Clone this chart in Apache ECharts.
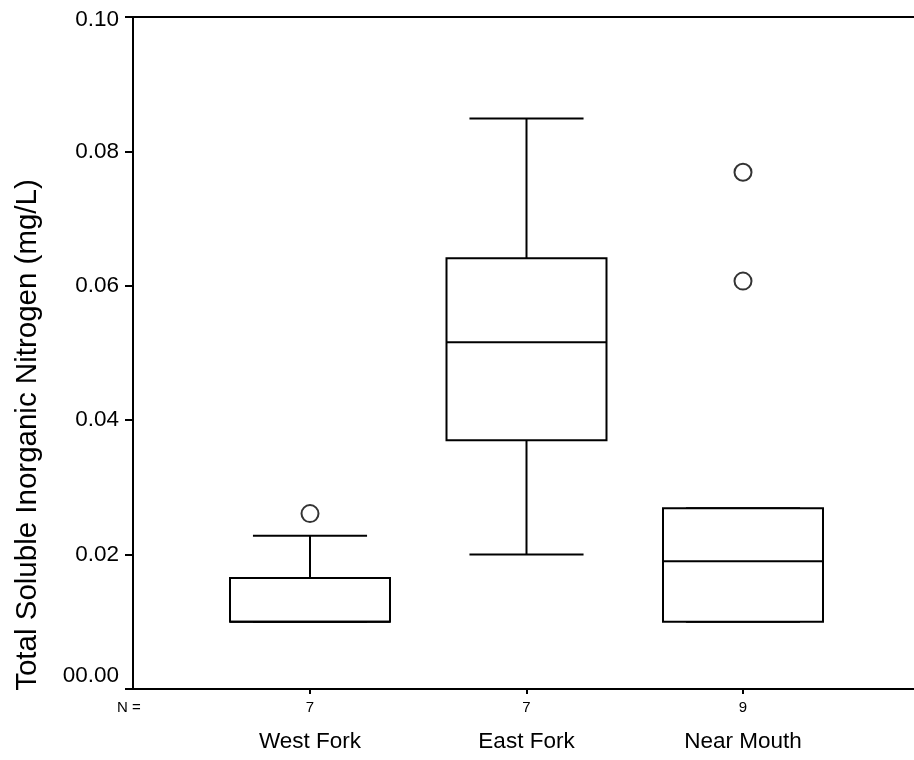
<!DOCTYPE html>
<html>
<head>
<meta charset="utf-8">
<script src="https://cdn.jsdelivr.net/npm/echarts@6/dist/echarts.min.js"></script>
<style>
html,body{margin:0;padding:0;background:#fff;}
#chart{width:914px;height:760px;}
</style>
</head>
<body>
<div id="chart"></div>
<script>
// ---- data ----
const categories = ['West Fork', 'East Fork', 'Near Mouth'];
const nCounts = [7, 7, 9];
// [lower whisker, Q1, median, Q3, upper whisker]
const lowerWhisker = [0.0100, 0.0200, 0.0100];
const q1Values     = [0.0100, 0.0370, 0.0100];
const medianValues = [0.0100, 0.0516, 0.0190];
const q3Values     = [0.0165, 0.0641, 0.0269];
const upperWhisker = [0.0228, 0.0849, 0.0269];
const outlierCategory = [0, 2, 2];
const outlierValues   = [0.0261, 0.0769, 0.0607];
const yTickLabels = ['00.00', '0.02', '0.04', '0.06', '0.08', '0.10'];
const yTitle = 'Total Soluble Inorganic Nitrogen (mg/L)';

// ---- build ----
const boxSeriesData = categories.map((c, i) => [i, lowerWhisker[i], q1Values[i], medianValues[i], q3Values[i], upperWhisker[i]]);
const outlierData = outlierCategory.map((c, i) => [c, outlierValues[i]]);

const FONT = 'Liberation Sans, Arial, sans-serif';
const chart = echarts.init(document.getElementById('chart'));

const option = {
  animation: false,
  backgroundColor: '#fff',
  grid: [
    { left: 133, right: 0, top: 17, bottom: 71 },
    { left: 201.75, width: 649.5, top: 17, bottom: 71 }
  ],
  xAxis: [
    { gridIndex: 0, type: 'value', min: 0, max: 1, position: 'bottom',
      axisLine: { show: true, lineStyle: { color: '#000', width: 2 } },
      axisTick: { show: false }, axisLabel: { show: false }, splitLine: { show: false } },
    { gridIndex: 0, type: 'value', min: 0, max: 1, position: 'top',
      axisLine: { show: true, lineStyle: { color: '#000', width: 2 } },
      axisTick: { show: false }, axisLabel: { show: false }, splitLine: { show: false } },
    { gridIndex: 1, type: 'category', data: categories, boundaryGap: true, position: 'bottom',
      axisLine: { show: false },
      axisTick: { show: true, alignWithLabel: true, length: 5, lineStyle: { color: '#000', width: 2 } },
      axisLabel: {
        margin: 9,
        interval: 0,
        formatter: function (v, i) { return '{n|' + nCounts[i] + '}\n{c|' + v + '}'; },
        rich: {
          n: { fontSize: 15, lineHeight: 20, color: '#000', fontFamily: FONT },
          c: { fontSize: 22.5, lineHeight: 48, color: '#000', fontFamily: FONT }
        }
      },
      splitLine: { show: false } }
  ],
  yAxis: [
    { gridIndex: 0, type: 'value', min: 0, max: 0.1, interval: 0.02,
      axisLine: { show: true, lineStyle: { color: '#000', width: 2 } },
      axisTick: { show: true, inside: false, length: 8, lineStyle: { color: '#000', width: 2 } },
      axisLabel: { margin: 14, color: '#000', fontSize: 22.5, fontFamily: FONT,
        formatter: function (v) {
          const k = Math.round(v / 0.02);
          if (k === 0) return '{lo|' + yTickLabels[k] + '}';
          if (k === yTickLabels.length - 1) return '{hi|' + yTickLabels[k] + '}';
          return yTickLabels[k];
        },
        rich: {
          lo: { fontSize: 22.5, color: '#000', fontFamily: FONT, padding: [0, 0, 26, 0] },
          hi: { fontSize: 22.5, color: '#000', fontFamily: FONT, padding: [6, 0, 0, 0] }
        }
      },
      splitLine: { show: false } },
    { gridIndex: 1, type: 'value', min: 0, max: 0.1, interval: 0.02, show: false }
  ],
  graphic: [
    { type: 'text', left: 117, top: 700, style: { text: 'N =', fontSize: 15, fill: '#000', fontFamily: FONT } },
    { type: 'text', x: 28, y: 435, rotation: Math.PI / 2,
      style: { text: yTitle, fontSize: 29.5, fill: '#000', fontFamily: FONT, align: 'center', verticalAlign: 'middle' } }
  ],
  series: [
    {
      type: 'custom',
      xAxisIndex: 2, yAxisIndex: 1,
      data: boxSeriesData,
      encode: { x: 0, y: [1, 2, 3, 4, 5] },
      renderItem: function (params, api) {
        const idx = api.value(0);
        const pLo = api.coord([idx, api.value(1)]);
        const pQ1 = api.coord([idx, api.value(2)]);
        const pMed = api.coord([idx, api.value(3)]);
        const pQ3 = api.coord([idx, api.value(4)]);
        const pHi = api.coord([idx, api.value(5)]);
        const band = api.size([1, 0])[0];
        const bw = band * 0.739 / 2;
        const cw = band * 0.527 / 2;
        const cx = pMed[0];
        const ls = { stroke: '#000', lineWidth: 2, fill: null };
        const children = [];
        children.push({ type: 'line', shape: { x1: cx, y1: pQ3[1], x2: cx, y2: pHi[1] }, style: ls });
        children.push({ type: 'line', shape: { x1: cx, y1: pQ1[1], x2: cx, y2: pLo[1] }, style: ls });
        children.push({ type: 'line', shape: { x1: cx - cw, y1: pHi[1], x2: cx + cw, y2: pHi[1] }, style: ls });
        children.push({ type: 'line', shape: { x1: cx - cw, y1: pLo[1], x2: cx + cw, y2: pLo[1] }, style: ls });
        children.push({ type: 'rect', shape: { x: cx - bw, y: pQ3[1], width: 2 * bw, height: pQ1[1] - pQ3[1] },
          style: { fill: '#fff', stroke: '#000', lineWidth: 2 } });
        children.push({ type: 'line', shape: { x1: cx - bw, y1: pMed[1], x2: cx + bw, y2: pMed[1] }, style: ls });
        return { type: 'group', children: children };
      },
      z: 2
    },
    {
      type: 'scatter',
      xAxisIndex: 2, yAxisIndex: 1,
      data: outlierData,
      symbol: 'circle',
      symbolSize: 17,
      itemStyle: { color: '#fff', borderColor: '#000', borderWidth: 2 },
      z: 3
    }
  ]
};
chart.setOption(option);
</script>
</body>
</html>
